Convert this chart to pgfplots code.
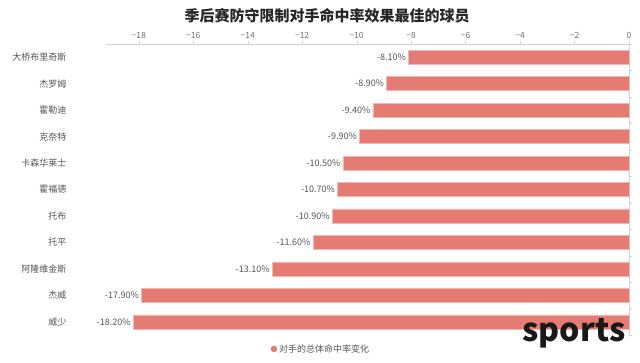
\documentclass[border=0pt]{standalone}
\usepackage{fontspec}
\setmainfont{Noto Sans CJK SC}
\usepackage{pgfplots}
\pgfplotsset{compat=1.18}
\definecolor{barc}{HTML}{E57B72}
\definecolor{barb}{HTML}{F2B8B2}
\definecolor{axc}{HTML}{D0D3DA}
\definecolor{txt}{HTML}{6E7079}
\definecolor{lab}{HTML}{555555}
\begin{document}
\begin{tikzpicture}[x=1pt,y=1pt]
\useasboundingbox (0,0) rectangle (640,363);
\begin{axis}[
  at={(106pt,28pt)}, anchor=south west,
  scale only axis, width=523pt, height=291pt,
  xbar, bar width=14pt,
  xmin=-19.2, xmax=0,
  ymin=-0.5, ymax=10.5, y dir=reverse,
  xtick={-18,-16,-14,-12,-10,-8,-6,-4,-2,0},
  xticklabels={−18,−16,−14,−12,−10,−8,−6,−4,−2,0},
  xtick pos=top, xticklabel pos=top,
  ytick={0,...,10},
  yticklabels={大桥布里奇斯,杰罗姆,霍勒迪,克奈特,卡森华莱士,霍福德,托布,托平,阿隆维金斯,杰威,威少},
  ytick pos=right, yticklabel pos=left,
  minor ytick={-0.5,0.5,...,10.5},
  major tick length=3pt, minor tick length=3pt,
  tick align=outside,
  tick style={axc},
  axis line style={draw=none},
  x tick label style={font=\fontsize{8.5}{10}\selectfont, text=txt, yshift=-1pt},
  y tick label style={font=\fontsize{9}{10}\selectfont, text=lab, xshift=-33pt},
  ytick style={draw=none},
  minor y tick style={draw=axc},
  point meta=x,
  nodes near coords={\pgfmathprintnumber[fixed,fixed zerofill,precision=2,assume math mode=true]{\pgfplotspointmeta}\%},
  every node near coord/.append style={anchor=east, font=\fontsize{9}{10}\selectfont, text=lab, xshift=1pt},
  legend style={at={(0.411,-0.048)}, anchor=center, draw=none, fill=none,
    font=\fontsize{9}{10}\selectfont, text=lab},
  legend image code/.code={\fill[barc] (0.2cm,0cm) circle (3pt);},
  clip=false,
]
\draw[axc] (axis description cs:0,1) -- (axis description cs:1,1);
\draw[axc] (axis description cs:1,0) -- (axis description cs:1,1);
\addplot[fill=barc, draw=barb] coordinates {
  (-8.10,0) (-8.90,1) (-9.40,2) (-9.90,3) (-10.50,4) (-10.70,5)
  (-10.90,6) (-11.60,7) (-13.10,8) (-17.90,9) (-18.20,10)};
\addlegendentry{对手的总体命中率变化}
\end{axis}
\node[font=\fontsize{15}{16}\selectfont\bfseries, text=black!85] at (327,347) {季后赛防守限制对手命中率效果最佳的球员};
\node[font=\fontsize{32}{32}\selectfont\bfseries, text=black!90] at (574,30) {sports};
\end{tikzpicture}
\end{document}
